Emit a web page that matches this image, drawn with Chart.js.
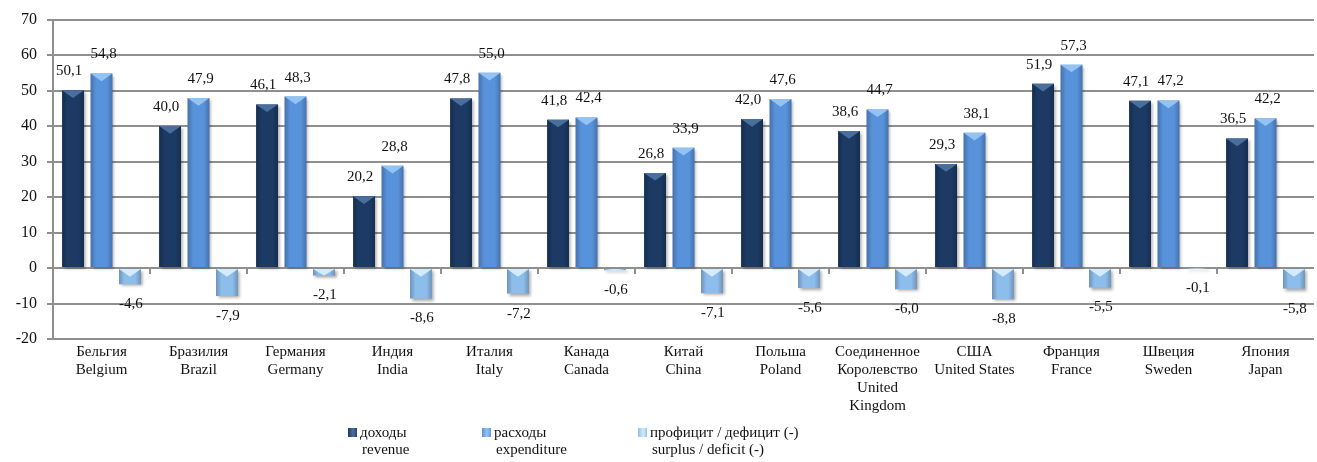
<!DOCTYPE html>
<html>
<head>
<meta charset="utf-8">
<script src="https://cdn.jsdelivr.net/npm/chart.js@4/dist/chart.umd.min.js"></script>
<style>
    body { margin: 0; background: #fff; }
    #wrap { width: 1317px; height: 462px; }
</style>
</head>
<body>
<div id="wrap"><canvas id="graph"></canvas></div>
<script>
// ===== DONNÉES =====
var categories = [
    ['Бельгия', 'Belgium'],
    ['Бразилия', 'Brazil'],
    ['Германия', 'Germany'],
    ['Индия', 'India'],
    ['Италия', 'Italy'],
    ['Канада', 'Canada'],
    ['Китай', 'China'],
    ['Польша', 'Poland'],
    ['Соединенное', 'Королевство', 'United', 'Kingdom'],
    ['США', 'United States'],
    ['Франция', 'France'],
    ['Швеция', 'Sweden'],
    ['Япония', 'Japan']
];
var revenue     = [50.1, 40.0, 46.1, 20.2, 47.8, 41.8, 26.8, 42.0, 38.6, 29.3, 51.9, 47.1, 36.5];
var expenditure = [54.8, 47.9, 48.3, 28.8, 55.0, 42.4, 33.9, 47.6, 44.7, 38.1, 57.3, 47.2, 42.2];
var balance     = [-4.6, -7.9, -2.1, -8.6, -7.2, -0.6, -7.1, -5.6, -6.0, -8.8, -5.5, -0.1, -5.8];
var seriesNames = [
    ['доходы', 'revenue'],
    ['расходы', 'expenditure'],
    ['профицит / дефицит (-)', 'surplus / deficit (-)']
];
var yMin = -20, yMax = 70, yStep = 10;

// couleurs : corps de la barre et biseau du haut
var couleurs = ['#1c3a64', '#5892da', '#8dbdeb'];
var biseaux  = ['#4b6f9c', '#93c3f2', '#d2ecfd'];
var FONT = 'Liberation Serif';

function fmt(v) { return v.toFixed(1).replace('.', ','); }

// ===== EFFET 3D DES BARRES =====
var effetBarres = {
    id: 'effetBarres',
    beforeDatasetsDraw: function (chart) {
        var ctx = chart.ctx;
        ctx.save();
        ctx.shadowColor = 'rgba(0,0,0,0.35)';
        ctx.shadowBlur = 3;
        ctx.shadowOffsetX = 2;
        ctx.shadowOffsetY = 2;
    },
    afterDatasetsDraw: function (chart) {
        var ctx = chart.ctx;
        ctx.restore();
        chart.data.datasets.forEach(function (ds, d) {
            chart.getDatasetMeta(d).data.forEach(function (el) {
                var l = el.x - el.width / 2, r = el.x + el.width / 2;
                var top = Math.min(el.y, el.base), bot = Math.max(el.y, el.base);
                // bords plus sombres
                var g = ctx.createLinearGradient(l, 0, r, 0);
                g.addColorStop(0, 'rgba(0,0,0,0.22)');
                g.addColorStop(0.25, 'rgba(0,0,0,0)');
                g.addColorStop(0.75, 'rgba(0,0,0,0)');
                g.addColorStop(1, 'rgba(0,0,0,0.22)');
                ctx.fillStyle = g;
                ctx.fillRect(l, top, r - l, bot - top);
                // biseau triangulaire en haut
                var h = Math.min(el.width * 0.35, bot - top);
                ctx.beginPath();
                ctx.moveTo(l, top);
                ctx.lineTo(r, top);
                ctx.lineTo(el.x, top + h);
                ctx.closePath();
                ctx.fillStyle = biseaux[d];
                ctx.fill();
            });
        });

        // étiquettes de valeurs
        var decal = [-4, 2, 1];
        ctx.save();
        ctx.font = '15px "' + FONT + '"';
        ctx.fillStyle = '#111';
        ctx.textAlign = 'center';
        ctx.textBaseline = 'middle';
        chart.data.datasets.forEach(function (ds, d) {
            chart.getDatasetMeta(d).data.forEach(function (el, i) {
                var v = ds.data[i];
                var y = v >= 0 ? el.y - 19 : el.y + 20;
                ctx.fillText(fmt(v), el.x + decal[d], y);
            });
        });
        ctx.restore();
    },
    afterDraw: function (chart) {
        var ctx = chart.ctx, area = chart.chartArea;
        var y0 = chart.scales.y.getPixelForValue(0);
        // graduations de l'axe horizontal sur la ligne du zéro
        ctx.save();
        ctx.strokeStyle = '#8f8f8f';
        ctx.lineWidth = 2;
        var n = categories.length;
        for (var i = 1; i < n; i++) {
            var x = area.left + i * area.width / n;
            ctx.beginPath();
            ctx.moveTo(x, y0);
            ctx.lineTo(x, y0 + 6);
            ctx.stroke();
        }
        // légende sur deux lignes
        var posX = [348, 482, 638];
        ctx.font = '15px "' + FONT + '"';
        ctx.fillStyle = '#111';
        ctx.textBaseline = 'middle';
        ctx.textAlign = 'left';
        seriesNames.forEach(function (nom, s) {
            var bx = posX[s], by = 428;
            var g = ctx.createLinearGradient(bx, 0, bx + 10, 0);
            g.addColorStop(0, couleurs[s]);
            g.addColorStop(0.5, biseaux[s]);
            g.addColorStop(1, couleurs[s]);
            ctx.fillStyle = g;
            ctx.fillRect(bx, by, 9, 9);
            ctx.fillStyle = '#111';
            ctx.fillText(nom[0], bx + 12, 433);
            ctx.fillText(nom[1], bx + 14, 450);
        });
        ctx.restore();
    }
};

// ===== GRAPHIQUE =====
new Chart(document.getElementById('graph'), {
    type: 'bar',
    data: {
        labels: categories,
        datasets: [
            { label: seriesNames[0].join(' '), data: revenue, backgroundColor: couleurs[0] },
            { label: seriesNames[1].join(' '), data: expenditure, backgroundColor: couleurs[1] },
            { label: seriesNames[2].join(' '), data: balance, backgroundColor: couleurs[2] }
        ]
    },
    options: {
        responsive: true,
        maintainAspectRatio: false,
        animation: false,
        layout: { padding: { top: 10, right: 3, bottom: 43, left: 0 } },
        datasets: { bar: { categoryPercentage: 0.88, barPercentage: 0.77 } },
        plugins: { legend: { display: false }, tooltip: { enabled: false } },
        scales: {
            x: {
                grid: { display: false, drawTicks: false },
                border: { display: false },
                ticks: {
                    color: '#111', font: { family: FONT, size: 15 },
                    maxRotation: 0, autoSkip: false, padding: 4
                }
            },
            y: {
                min: yMin, max: yMax,
                afterFit: function (scale) { scale.width = 53; },
                grid: { color: '#8f8f8f', lineWidth: 2, tickLength: 6 },
                border: { color: '#8f8f8f', width: 2 },
                ticks: {
                    stepSize: yStep, padding: 10,
                    color: '#111', font: { family: FONT, size: 16 }
                }
            }
        }
    },
    plugins: [effetBarres]
});
</script>
</body>
</html>
